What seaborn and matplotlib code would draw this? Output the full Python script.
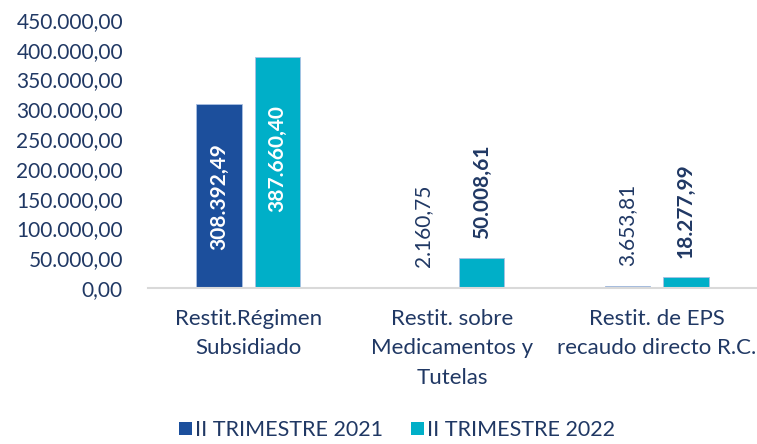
import matplotlib
matplotlib.use("Agg")
import matplotlib.pyplot as plt
import seaborn as sns
import pandas as pd
from matplotlib.patches import Patch

categories = ["Restit.Régimen\nSubsidiado", "Restit. sobre\nMedicamentos y\nTutelas", "Restit. de EPS\nrecaudo directo R.C."]
series_names = ["II TRIMESTRE 2021", "II TRIMESTRE 2022"]
values_2021 = [308392.49, 2160.75, 3653.81]
values_2022 = [387660.40, 50008.61, 18277.99]
label_2021 = ["308.392,49", "2.160,75", "3.653,81"]
label_2022 = ["387.660,40", "50.008,61", "18.277,99"]
yticks = [0, 50000, 100000, 150000, 200000, 250000, 300000, 350000, 400000, 450000]

colors = ["#1C4F9C", "#00AFC8"]
text_color = "#203864"

sns.set_theme(style="white")
plt.rcParams["font.family"] = ["Lato", "DejaVu Sans"]

df = pd.DataFrame({
    "cat": categories * 2,
    "serie": [series_names[0]] * 3 + [series_names[1]] * 3,
    "val": values_2021 + values_2022,
})

fig = plt.figure(figsize=(7.57, 4.44), dpi=100)
ax = fig.add_axes([148 / 757, 1 - 288 / 444, 1 - 148 / 757, (288 - 20) / 444])
sns.barplot(data=df, x="cat", y="val", hue="serie", palette=colors, saturation=1, ax=ax,
            width=0.57, gap=0.22, legend=False, edgecolor="#A9C0E2", linewidth=0.6)

ax.set_xlim(-0.49, 2.49)
ax.set_ylim(0, 450000)
ax.set_yticks(yticks)
ax.set_yticklabels([f"{v:,.2f}".replace(",", "X").replace(".", ",").replace("X", ".") for v in yticks],
                   fontsize=15, color=text_color)
ax.tick_params(axis="y", length=0, pad=18)
ax.tick_params(axis="x", length=0, pad=15)
for lbl in ax.get_xticklabels():
    lbl.set_fontsize(16)
    lbl.set_color(text_color)
    lbl.set_linespacing(1.6)
    lbl.set_verticalalignment("top")
ax.set_xlabel("")
ax.set_ylabel("")
for s in ["top", "right", "left"]:
    ax.spines[s].set_visible(False)
ax.spines["bottom"].set_color("#D9D9D9")
ax.spines["bottom"].set_linewidth(1.5)

# value labels
containers = ax.containers
for ci, (cont, labels) in enumerate(zip(containers, [label_2021, label_2022])):
    for i, (bar, txt) in enumerate(zip(cont, labels)):
        x = bar.get_x() + bar.get_width() / 2
        h = bar.get_height()
        if i == 0:
            ax.annotate(txt, (x, h / 2), xytext=(0, 0 if ci == 0 else 10), textcoords="offset points",
                        rotation=90, ha="center", va="center",
                        color="white", fontsize=15, fontweight="bold")
        else:
            ax.annotate(txt, (x, h), xytext=(0, 14), textcoords="offset points",
                        rotation=90, ha="center", va="bottom", color=text_color,
                        fontsize=15, fontweight="bold" if ci == 1 else "normal")

handles = [Patch(facecolor=c, edgecolor="none") for c in colors]
fig.legend(handles, series_names, loc="center", bbox_to_anchor=(397 / 757, 1 - 430 / 444),
           ncol=2, frameon=False, fontsize=15.5, labelcolor=text_color,
           handlelength=0.6, handleheight=0.6, handletextpad=0.15, columnspacing=1.3)

fig.savefig("out.png", dpi=100)
